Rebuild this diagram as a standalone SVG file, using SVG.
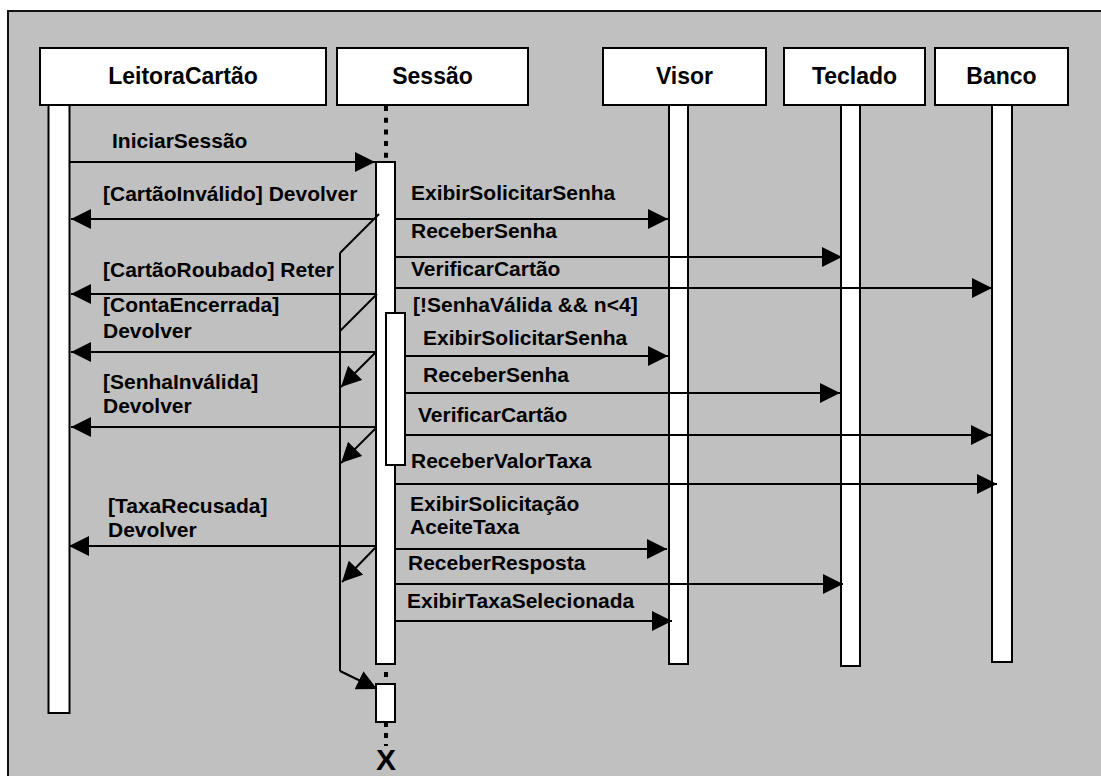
<svg xmlns="http://www.w3.org/2000/svg" width="1101" height="776" viewBox="0 0 1101 776">
  <style>
    .head { fill: #ffffff; stroke: #000000; stroke-width: 2; }
    .life { fill: #ffffff; stroke: #000000; stroke-width: 2; }
    .htxt { font-family: "Liberation Sans", Arial, sans-serif; font-weight: bold; font-size: 23px; fill: #000000; text-anchor: middle; }
    .lbl { font-family: "Liberation Sans", Arial, sans-serif; font-weight: bold; font-size: 21px; fill: #000000; }
    .msg { fill: none; stroke: #000000; stroke-width: 2; marker-end: url(#head); }
    .ret { fill: none; stroke: #000000; stroke-width: 2; }
    .dots { fill: none; stroke: #000000; stroke-width: 4; }
  </style>
  <defs>
    <marker id="head" markerUnits="userSpaceOnUse" markerWidth="20" markerHeight="20" refX="20" refY="10" orient="auto">
      <path d="M0,0 L20,10 L0,20 Z" fill="#000000"/>
    </marker>
  </defs>

  <!-- frame -->
  <rect x="8" y="11" width="1110" height="790" fill="#c0c0c0" stroke="#111111" stroke-width="2"/>

  <!-- LeitoraCartão -->
  <g id="leitora">
    <rect class="head" x="40" y="48" width="286" height="57"/>
    <text class="htxt" x="183" y="84">LeitoraCartão</text>
    <rect class="life" x="48.5" y="105" width="21" height="608"/>
  </g>

  <!-- Sessão -->
  <g id="sessao">
    <rect class="head" x="337" y="48" width="191" height="57"/>
    <text class="htxt" x="432.5" y="84">Sessão</text>
    <line class="dots" x1="386" y1="106" x2="386" y2="160" stroke-dasharray="5 6.7"/>
    <rect class="life" x="376" y="162" width="19" height="502"/>
    <line class="dots" x1="386" y1="672" x2="386" y2="677"/>
    <rect class="life" x="376" y="684" width="19" height="38"/>
    <line class="dots" x1="386" y1="723" x2="386" y2="746" stroke-dasharray="4 6 5 6"/>
    <text x="386" y="770" style="font-family: 'Liberation Sans', Arial, sans-serif; font-weight: bold; font-size: 30px; text-anchor: middle;">X</text>
  </g>

  <!-- Visor -->
  <g id="visor">
    <rect class="head" x="603" y="48" width="163" height="57"/>
    <text class="htxt" x="684.5" y="84">Visor</text>
    <rect class="life" x="669" y="105" width="19" height="559"/>
  </g>

  <!-- Teclado -->
  <g id="teclado">
    <rect class="head" x="784" y="48" width="141" height="57"/>
    <text class="htxt" x="854.5" y="84">Teclado</text>
    <rect class="life" x="841" y="105" width="19" height="561"/>
  </g>

  <!-- Banco -->
  <g id="banco">
    <rect class="head" x="935" y="48" width="133" height="57"/>
    <text class="htxt" x="1001.5" y="84">Banco</text>
    <rect class="life" x="992" y="105" width="20" height="557"/>
  </g>

  <!-- connectors -->
  <g id="connectors">
    <!-- start of the session -->
    <line class="msg" x1="70" y1="162" x2="375" y2="162"/>

    <!-- guard exits back to the card reader -->
    <line class="msg" x1="376" y1="219" x2="71" y2="219"/>
    <line class="msg" x1="376" y1="294" x2="71" y2="294"/>
    <line class="msg" x1="376" y1="352" x2="71" y2="352"/>
    <line class="msg" x1="376" y1="427" x2="71" y2="427"/>
    <line class="msg" x1="376" y1="546" x2="69" y2="546"/>

    <!-- return path to the end of the session -->
    <line class="ret" x1="379" y1="214" x2="340" y2="253"/>
    <line class="ret" x1="377" y1="294" x2="340" y2="331"/>
    <line class="msg" x1="376" y1="352" x2="341" y2="387"/>
    <line class="msg" x1="376" y1="428" x2="341" y2="463"/>
    <line class="msg" x1="376" y1="547" x2="342" y2="582"/>
    <polyline class="ret" points="340,253 340,671"/>
    <line class="msg" x1="340" y1="671" x2="377" y2="689"/>

    <!-- messages to display, keypad and bank -->
    <line class="msg" x1="395" y1="219" x2="668" y2="219"/>
    <line class="msg" x1="395" y1="257" x2="842" y2="257"/>
    <line class="msg" x1="395" y1="288" x2="992" y2="288"/>
    <line class="msg" x1="405" y1="356" x2="668" y2="356"/>
    <line class="msg" x1="405" y1="393" x2="840" y2="393"/>
    <line class="msg" x1="405" y1="435" x2="991" y2="435"/>
    <line class="msg" x1="395" y1="484" x2="997" y2="484"/>
    <line class="msg" x1="395" y1="549" x2="667" y2="549"/>
    <line class="msg" x1="395" y1="584" x2="843" y2="584"/>
    <line class="msg" x1="395" y1="621" x2="672" y2="621"/>
  </g>

  <!-- password retry loop activation -->
  <g id="loop">
    <rect class="life" x="386" y="313" width="19" height="152"/>
  </g>

  <!-- message labels -->
  <g id="labels">
    <text class="lbl" x="112" y="148">IniciarSessão</text>
    <text class="lbl" x="103" y="201">[CartãoInválido] Devolver</text>
    <text class="lbl" x="103" y="277">[CartãoRoubado] Reter</text>
    <text class="lbl" x="103" y="312">[ContaEncerrada]</text>
    <text class="lbl" x="103" y="338">Devolver</text>
    <text class="lbl" x="103" y="389">[SenhaInválida]</text>
    <text class="lbl" x="103" y="413">Devolver</text>
    <text class="lbl" x="108" y="513">[TaxaRecusada]</text>
    <text class="lbl" x="108" y="537">Devolver</text>

    <text class="lbl" x="411" y="200">ExibirSolicitarSenha</text>
    <text class="lbl" x="411" y="238">ReceberSenha</text>
    <text class="lbl" x="411" y="276">VerificarCartão</text>
    <text class="lbl" x="413" y="312">[!SenhaVálida &amp;&amp; n&lt;4]</text>
    <text class="lbl" x="423" y="345">ExibirSolicitarSenha</text>
    <text class="lbl" x="423" y="382">ReceberSenha</text>
    <text class="lbl" x="418" y="422">VerificarCartão</text>
    <text class="lbl" x="411" y="468">ReceberValorTaxa</text>
    <text class="lbl" x="410" y="511">ExibirSolicitação</text>
    <text class="lbl" x="410" y="534">AceiteTaxa</text>
    <text class="lbl" x="408" y="570">ReceberResposta</text>
    <text class="lbl" x="407" y="608">ExibirTaxaSelecionada</text>
  </g>
</svg>
